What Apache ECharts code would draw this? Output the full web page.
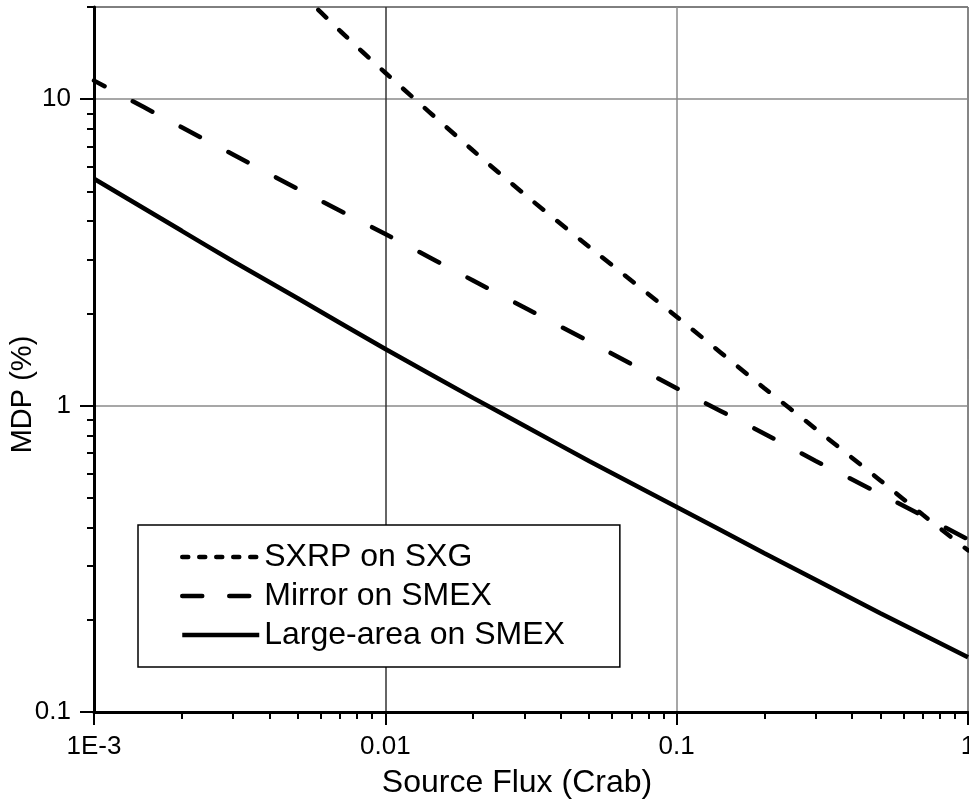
<!DOCTYPE html>
<html>
<head>
<meta charset="utf-8">
<script src="https://cdn.jsdelivr.net/npm/echarts@6/dist/echarts.min.js"></script>
<style>
html,body{margin:0;padding:0;background:#fff;}
#chart{width:969px;height:802px;}
</style>
</head>
<body>
<div id="chart"></div>
<script>
// ---- data ----
const xTickValues = [0.001, 0.01, 0.1, 1];
const xTickLabels = ['1E-3', '0.01', '0.1', '1'];
const xMinorTicks = [0.002,0.003,0.004,0.005,0.006,0.007,0.008,0.009,
                     0.02,0.03,0.04,0.05,0.06,0.07,0.08,0.09,
                     0.2,0.3,0.4,0.5,0.6,0.7,0.8,0.9];
const yTickValues = [0.1, 1, 10];
const yTickLabels = ['0.1', '1', '10'];
const yMinorTicks = [0.2,0.3,0.4,0.5,0.6,0.7,0.8,0.9,2,3,4,5,6,7,8,9,20];

const seriesNames = ['SXRP on SXG', 'Mirror on SMEX', 'Large-area on SMEX'];

const sxrpFlux = [0.005, 0.007, 0.01, 0.02, 0.03, 0.05, 0.1, 0.2, 0.3, 0.5, 0.7, 1];
const sxrpMDP  = [22.8, 16.7, 12.2, 6.8, 4.9, 3.3, 1.95, 1.14, 0.84, 0.57, 0.44, 0.337];

const flux       = [0.001, 0.002, 0.003, 0.005, 0.01, 0.02, 0.03, 0.05, 0.1, 0.2, 0.3, 0.5, 1];
const mirrorMDP  = [11.5, 8.1, 6.6, 5.1, 3.63, 2.56, 2.09, 1.62, 1.14, 0.81, 0.66, 0.515, 0.366];
const largeMDP   = [5.5, 3.72, 2.96, 2.24, 1.53, 1.06, 0.86, 0.66, 0.467, 0.33, 0.27, 0.21, 0.151];

// ---- chart ----
const FONT = "'Liberation Sans', Arial, sans-serif";
const pairs = (xs, ys) => xs.map((x, i) => [x, ys[i]]);
const labelFor = (vals, labels) => v => {
  const e = Math.round(Math.log10(v));
  for (let i = 0; i < vals.length; i++) if (Math.round(Math.log10(vals[i])) === e) return labels[i];
  return '';
};

const chart = echarts.init(document.getElementById('chart'), null, {renderer: 'canvas'});
const grid = {left: 94, right: 1, top: 7, bottom: 90, containLabel: false, outerBoundsMode: 'none',
              show: true, borderColor: '#000', borderWidth: 1, backgroundColor: 'transparent'};
const hiddenSymbol = {opacity: 0, color: 'rgba(0,0,0,0)', borderWidth: 0};

const option = {
  animation: false,
  backgroundColor: '#fff',
  grid: grid,
  xAxis: [{
    type: 'log', logBase: 10, min: 0.001, max: 1, position: 'bottom',
    name: 'Source Flux (Crab)', nameLocation: 'middle', nameGap: 55, nameMoveOverlap: false,
    nameTextStyle: {fontFamily: FONT, fontSize: 32, color: '#000', padding: [0, 28, 0, 0]},
    axisLine: {show: true, lineStyle: {color: '#000', width: 3}},
    axisTick: {show: true, customValues: xTickValues, length: 13, lineStyle: {color: '#000', width: 2}},
    minorTick: {show: false},
    axisLabel: {show: true, customValues: xTickValues, margin: 22, fontFamily: FONT, fontSize: 26, color: '#000',
                formatter: labelFor(xTickValues, xTickLabels)},
    splitLine: {show: true, lineStyle: {color: ['#888', '#333', '#8a8a8a', '#888'], width: 1.5}}
  }, {
    type: 'log', logBase: 10, min: 0.001, max: 1, position: 'bottom',
    axisLine: {show: false},
    axisTick: {show: true, customValues: xMinorTicks, length: 7, lineStyle: {color: '#000', width: 2}},
    axisLabel: {show: false},
    splitLine: {show: false}
  }],
  yAxis: [{
    type: 'log', logBase: 10, min: 0.1, max: 20, position: 'left',
    name: 'MDP (%)', nameLocation: 'middle', nameGap: 57, nameRotate: 90, nameMoveOverlap: false,
    nameTextStyle: {fontFamily: FONT, fontSize: 29, color: '#000', padding: [0, 70, 0, 0]},
    axisLine: {show: true, lineStyle: {color: '#000', width: 3}},
    axisTick: {show: true, customValues: yTickValues, length: 14, lineStyle: {color: '#000', width: 2}},
    minorTick: {show: false},
    axisLabel: {show: true, customValues: yTickValues, margin: 23, fontFamily: FONT, fontSize: 26, color: '#000',
                formatter: labelFor(yTickValues, yTickLabels)},
    splitLine: {show: true, lineStyle: {color: '#8a8a8a', width: 1.5}}
  }, {
    type: 'log', logBase: 10, min: 0.1, max: 20, position: 'left',
    axisLine: {show: false},
    axisTick: {show: true, customValues: yMinorTicks, length: 7, lineStyle: {color: '#000', width: 2}},
    axisLabel: {show: false},
    splitLine: {show: false}
  }],
  legend: {
    show: true, orient: 'vertical', left: 138, top: 525,
    itemWidth: 77, itemHeight: 14, itemGap: 7,
    padding: [16, 55, 16, 42],
    borderColor: '#000', borderWidth: 1.5, backgroundColor: '#fff',
    textStyle: {fontFamily: FONT, fontSize: 32, color: '#000'},
    itemStyle: hiddenSymbol,
    data: [
      {name: seriesNames[0], itemStyle: hiddenSymbol, lineStyle: {type: [6, 11], dashOffset: 0, width: 4.5, cap: 'round', color: '#000'}},
      {name: seriesNames[1], itemStyle: hiddenSymbol, lineStyle: {type: [20, 27], dashOffset: 0, width: 4.5, cap: 'round', color: '#000'}},
      {name: seriesNames[2], itemStyle: hiddenSymbol, lineStyle: {type: 'solid', width: 4.5, color: '#000'}}
    ]
  },
  series: [
    {name: seriesNames[0], type: 'line', xAxisIndex: 0, yAxisIndex: 0, data: pairs(sxrpFlux, sxrpMDP),
     showSymbol: false, symbol: 'none', smooth: 0.3, clip: true, itemStyle: {color: '#000'},
     lineStyle: {color: '#000', width: 4.5, type: [11, 18], cap: 'round'}},
    {name: seriesNames[1], type: 'line', xAxisIndex: 0, yAxisIndex: 0, data: pairs(flux, mirrorMDP),
     showSymbol: false, symbol: 'none', smooth: 0.3, clip: true, itemStyle: {color: '#000'},
     lineStyle: {color: '#000', width: 4.5, type: [22, 32], dashOffset: 10, cap: 'round'}},
    {name: seriesNames[2], type: 'line', xAxisIndex: 0, yAxisIndex: 0, data: pairs(flux, largeMDP),
     showSymbol: false, symbol: 'none', smooth: 0.3, clip: true, itemStyle: {color: '#000'},
     lineStyle: {color: '#000', width: 4.5, type: 'solid'}}
  ]
};
chart.setOption(option);
</script>
</body>
</html>
